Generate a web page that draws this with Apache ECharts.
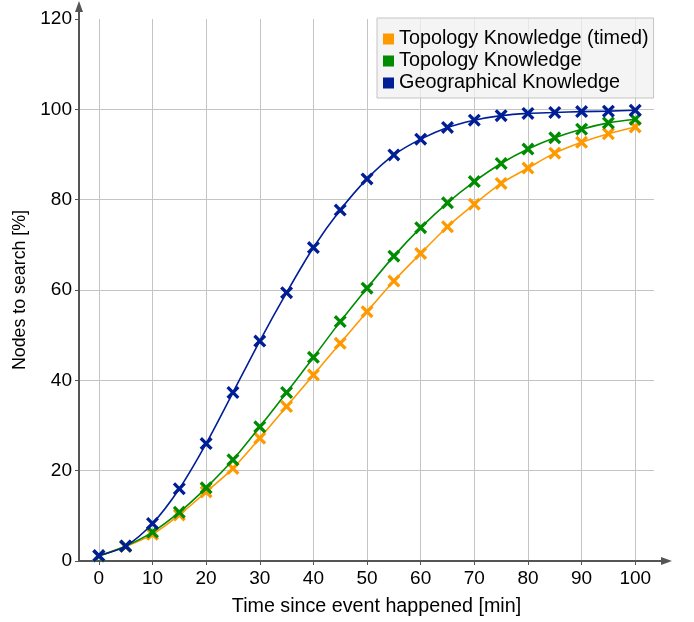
<!DOCTYPE html>
<html>
<head>
<meta charset="utf-8">
<script src="https://cdn.jsdelivr.net/npm/echarts@6/dist/echarts.min.js"></script>
<style>html,body{margin:0;padding:0;background:#fff}#c{width:694px;height:622px}</style>
</head>
<body>
<div id="c"></div>
<script>
var xValues = [0,5,10,15,20,25,30,35,40,45,50,55,60,65,70,75,80,85,90,95,100];
var topologyTimed = [1.1,3.2,5.9,10.2,15.3,20.5,27.2,34.2,41.2,48.2,55.2,62.0,68.1,74.0,79.0,83.6,87.0,90.3,92.7,94.6,96.1];
var topology = [1.1,3.3,6.4,10.8,16.2,22.4,29.7,37.3,45.1,53.0,60.4,67.5,73.8,79.3,84.0,88.0,91.2,93.7,95.6,97.0,97.8];
var geographical = [1.2,3.3,8.3,16.0,26.0,37.3,48.7,59.4,69.4,77.7,84.6,89.9,93.4,96.0,97.6,98.6,99.1,99.3,99.5,99.6,99.8];
var xTicks = [0,10,20,30,40,50,60,70,80,90,100];
var seriesNames = ['Topology Knowledge (timed)','Topology Knowledge','Geographical Knowledge'];
var seriesColors = ['#ff9900','#008c00','#001e96'];

var FONT = 'Liberation Sans, Arial, sans-serif';
var arrowPath = 'path://M4,0 L8,11 L5,11 L5,18 L3,18 L3,11 L0,11 Z';
var crossPath = 'path://M0,1.8 L1.8,0 L5,3.2 L8.2,0 L10,1.8 L6.8,5 L10,8.2 L8.2,10 L5,6.8 L1.8,10 L0,8.2 L3.2,5 Z';

function pairs(vals){ return xValues.map(function(x,i){ return [x, vals[i]]; }); }
var allVals = [topologyTimed, topology, geographical];

var chart = echarts.init(document.getElementById('c'), null, {renderer:'canvas'});
chart.setOption({
  animation: false,
  textStyle: {fontFamily: FONT},
  grid: {left: 79, right: 40, top: 19, bottom: 61, containLabel: false},
  legend: {
    orient: 'vertical', left: 377, top: 18,
    padding: [11, 5, 5, 6], itemGap: 2,
    itemWidth: 11, itemHeight: 11, icon: 'rect',
    backgroundColor: 'rgba(240,240,240,0.75)', borderColor: '#c4c4c4', borderWidth: 1,
    textStyle: {fontSize: 19.8, color: '#000', fontFamily: FONT},
    data: seriesNames
  },
  xAxis: {
    type: 'value', min: -3.7, max: 103.5,
    name: 'Time since event happened [min]', nameLocation: 'middle', nameGap: 36,
    nameTextStyle: {fontSize: 19.7, color: '#000', fontFamily: FONT, padding: [0,0,0,20]},
    axisLine: {show: true, onZero: false, lineStyle: {color: '#555', width: 2}, symbol: ['none', arrowPath], symbolSize: [8, 18], symbolOffset: [0, 9]},
    axisTick: {show: true, length: 4, customValues: xTicks, lineStyle: {color: '#555', width: 1}},
    axisLabel: {customValues: xTicks, fontSize: 19, color: '#000', margin: 8, fontFamily: FONT},
    splitLine: {show: true, lineStyle: {color: '#c4c4c4', width: 1}}
  },
  yAxis: {
    type: 'value', min: 0, max: 120, interval: 20,
    name: 'Nodes to search [%]', nameLocation: 'middle', nameGap: 49,
    nameTextStyle: {fontSize: 17.8, color: '#000', fontFamily: FONT},
    axisLine: {show: true, onZero: false, lineStyle: {color: '#555', width: 2}, symbol: ['none', arrowPath], symbolSize: [8, 18], symbolOffset: [0, 9]},
    axisTick: {show: true, length: 4, lineStyle: {color: '#555', width: 1}},
    axisLabel: {fontSize: 19, color: '#000', margin: 7, fontFamily: FONT},
    splitLine: {show: true, showMaxLine: false, lineStyle: {color: '#c4c4c4', width: 1}}
  },
  series: seriesNames.map(function(n, i){
    return {
      name: n, type: 'line', data: pairs(allVals[i]), smooth: 0.3,
      symbol: crossPath, symbolSize: 13,
      itemStyle: {color: seriesColors[i]},
      lineStyle: {color: seriesColors[i], width: 1.6},
      z: 3 + i
    };
  })
});
</script>
</body>
</html>
